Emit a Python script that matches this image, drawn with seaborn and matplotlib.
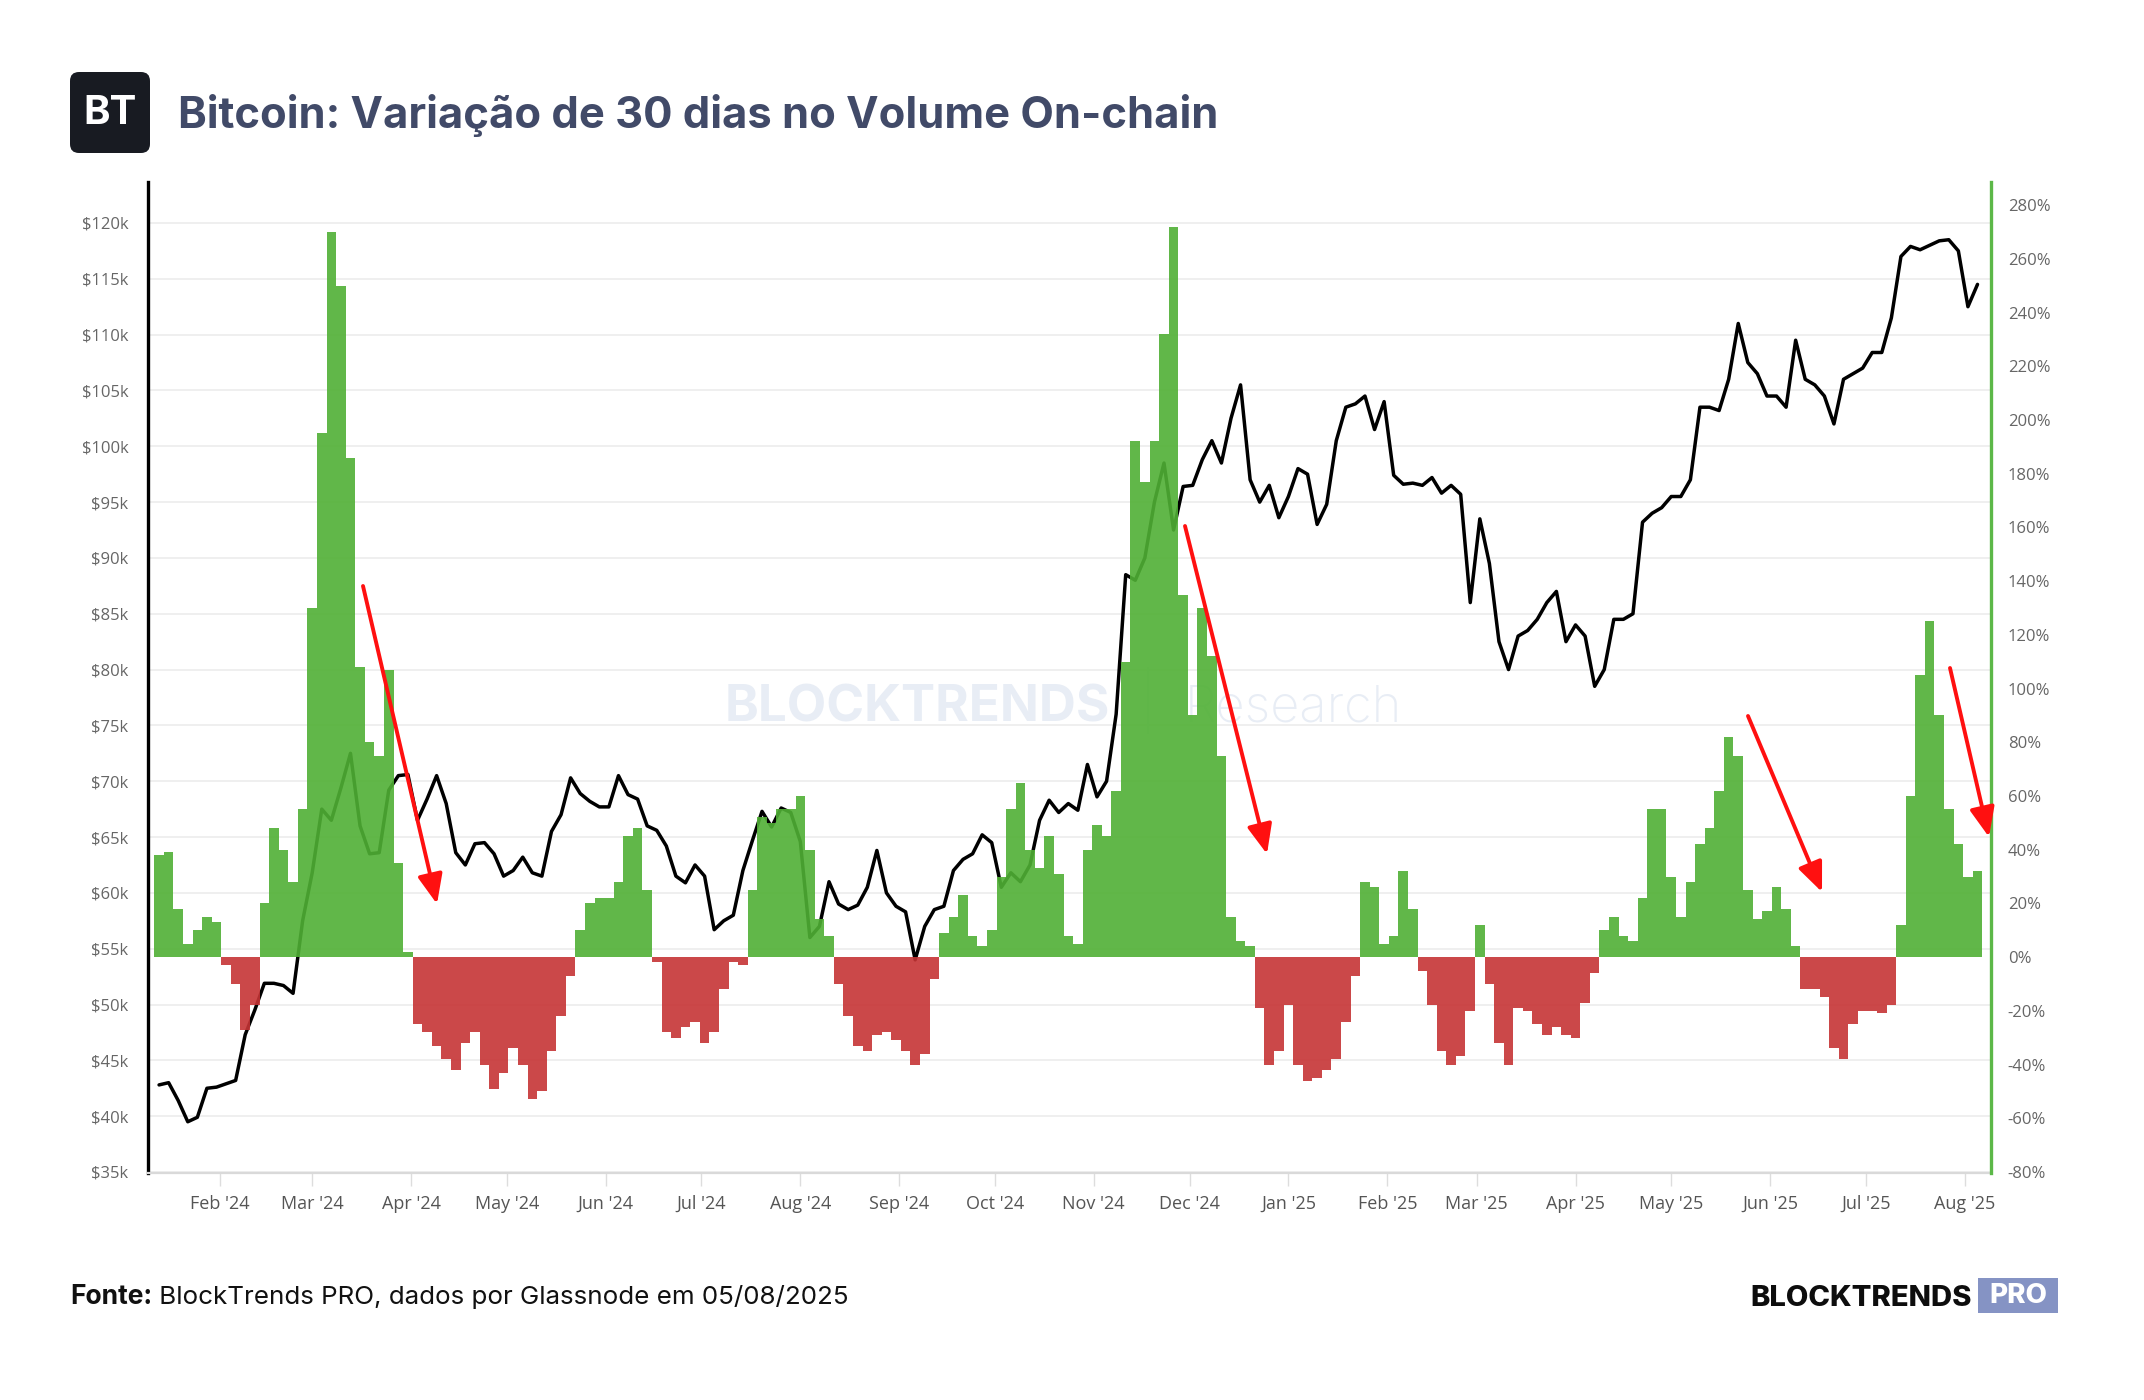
import numpy as np
import pandas as pd
import matplotlib
matplotlib.use("Agg")
import matplotlib.pyplot as plt
import matplotlib.dates as mdates
from matplotlib.patches import FancyBboxPatch, FancyArrowPatch, Rectangle
from matplotlib.transforms import IdentityTransform
import seaborn as sns

# data: one value every 3 days, from 2024-01-13
START = "2024-01-13"
STEP = "3D"

# 30-day change in on-chain volume (%)
volume_change = [
    38, 39, 18, 5, 10, 15, 13, -3, -10, -27,
    -18, 20, 48, 40, 28, 55, 130, 195, 270, 250,
    186, 108, 80, 75, 107, 35, 2, -25, -28, -33,
    -38, -42, -32, -28, -40, -49, -43, -34, -40, -53,
    -50, -35, -22, -7, 10, 20, 22, 22, 28, 45,
    48, 25, -2, -28, -30, -26, -24, -32, -28, -12,
    -2, -3, 25, 52, 50, 55, 55, 60, 40, 14,
    8, -10, -22, -33, -35, -29, -28, -31, -35, -40,
    -36, -8, 9, 15, 23, 8, 4, 10, 30, 55,
    65, 40, 33, 45, 31, 8, 5, 40, 49, 45,
    62, 110, 192, 177, 192, 232, 272, 135, 90, 130,
    112, 75, 15, 6, 4, -19, -40, -35, -18, -40,
    -46, -45, -42, -38, -24, -7, 28, 26, 5, 8,
    32, 18, -5, -18, -35, -40, -37, -20, 12, -10,
    -32, -40, -19, -20, -25, -29, -26, -29, -30, -17,
    -6, 10, 15, 8, 6, 22, 55, 55, 30, 15,
    28, 42, 48, 62, 82, 75, 25, 14, 17, 26,
    18, 4, -12, -12, -15, -34, -38, -25, -20, -20,
    -21, -18, 12, 60, 105, 125, 90, 55, 42, 30,
    32,
]

# BTC price (thousand USD)
btc_price_k = [
    42.8, 43.0, 41.4, 39.5, 39.9, 42.5, 42.6, 42.9, 43.2, 47.3,
    49.5, 51.9, 51.9, 51.7, 51.0, 57.5, 61.8, 67.5, 66.5, 69.4,
    72.5, 66.0, 63.5, 63.6, 69.2, 70.5, 70.6, 66.5, 68.4, 70.5,
    68.0, 63.6, 62.5, 64.4, 64.5, 63.5, 61.5, 62.0, 63.2, 61.8,
    61.5, 65.5, 67.0, 70.3, 68.9, 68.2, 67.7, 67.7, 70.5, 68.8,
    68.4, 66.0, 65.6, 64.2, 61.5, 60.9, 62.5, 61.5, 56.7, 57.5,
    58.0, 62.0, 64.7, 67.3, 65.9, 67.6, 67.2, 64.6, 56.0, 57.0,
    61.0, 59.0, 58.5, 58.9, 60.5, 63.8, 60.0, 58.8, 58.3, 54.0,
    57.0, 58.5, 58.8, 62.0, 63.0, 63.5, 65.2, 64.5, 60.5, 61.8,
    61.0, 62.5, 66.5, 68.3, 67.2, 68.0, 67.4, 71.5, 68.6, 70.0,
    76.0, 88.5, 88.0, 90.0, 95.0, 98.5, 92.5, 96.4, 96.5, 98.8,
    100.5, 98.5, 102.5, 105.5, 97.0, 95.0, 96.5, 93.6, 95.5, 98.0,
    97.5, 93.0, 94.8, 100.5, 103.5, 103.8, 104.5, 101.5, 104.0, 97.4,
    96.6, 96.7, 96.5, 97.2, 95.8, 96.5, 95.7, 86.0, 93.5, 89.5,
    82.5, 80.0, 83.0, 83.5, 84.5, 86.0, 87.0, 82.5, 84.0, 83.0,
    78.5, 80.0, 84.5, 84.5, 85.0, 93.2, 94.0, 94.5, 95.5, 95.5,
    97.0, 103.5, 103.5, 103.2, 106.0, 111.0, 107.5, 106.5, 104.5, 104.5,
    103.5, 109.5, 106.0, 105.5, 104.5, 102.0, 106.0, 106.5, 107.0, 108.4,
    108.4, 111.5, 117.0, 117.9, 117.6, 118.0, 118.4, 118.5, 117.5, 112.5,
    114.5,
]

price_ticks = list(range(35, 121, 5))
pct_ticks = list(range(-80, 281, 20))

TITLE = "Bitcoin: Variação de 30 dias no Volume On-chain"
SOURCE_BOLD = "Fonte:"
SOURCE_TEXT = "BlockTrends PRO, dados por Glassnode em 05/08/2025"

GREEN = "#50b035"
RED = "#c63435"

n = min(len(volume_change), len(btc_price_k))
df = pd.DataFrame({
    "date": pd.date_range(START, periods=n, freq=STEP),
    "vol": volume_change[:n],
    "price": btc_price_k[:n],
})
df["x"] = mdates.date2num(df["date"])
df["sign"] = np.where(df["vol"] >= 0, "up", "down")

sns.set_theme(style="white")
plt.rcParams["font.family"] = ["Open Sans", "DejaVu Sans"]

W, H = 2144, 1400
fig = plt.figure(figsize=(W / 100, H / 100), dpi=100)
fig.patch.set_facecolor("white")
ax = fig.add_axes([148 / W, 1 - 1173 / H, (1991 - 148) / W, (1173 - 182) / H])
ax2 = ax.twinx()

# price line (left axis), drawn under the bars
sns.lineplot(data=df, x="x", y="price", ax=ax, color="black", linewidth=2.5, zorder=3)

# volume change bars (right axis)
sns.barplot(data=df, x="x", y="vol", hue="sign", palette={"up": GREEN, "down": RED},
            native_scale=True, dodge=False, width=1.0, saturation=1, alpha=0.9,
            linewidth=0, errorbar=None, legend=False, ax=ax2)

x0 = mdates.date2num(pd.Timestamp("2024-02-01")) - 22.47
ax.set_xlim(x0, x0 + 577.7)
ax.set_ylim(34.91, 123.67)
ax2.set_ylim(-80.4, 288.6)

ax.set_yticks(price_ticks)
ax.set_yticklabels([f"${v}k" for v in price_ticks])
ax2.set_yticks(pct_ticks)
ax2.set_yticklabels([f"{v}%" for v in pct_ticks])

ax.xaxis.set_major_locator(mdates.MonthLocator())
ax.xaxis.set_major_formatter(mdates.DateFormatter("%b '%y"))

ax.set_xlabel("")
ax.set_ylabel("")
ax2.set_ylabel("")
ax2.set_xlabel("")

ax.grid(axis="y", color="#ececec", linewidth=1.2)
ax.grid(axis="x", visible=False)
ax2.grid(False)
ax.set_axisbelow(True)

ax.tick_params(axis="y", length=0, pad=14, labelsize=12, labelcolor="#666666")
ax2.tick_params(axis="y", length=0, pad=12, labelsize=12, labelcolor="#666666")
ax.tick_params(axis="x", length=9, width=1, color="#dddddd", pad=7,
               labelsize=13, labelcolor="#555555", bottom=True)

for s in ["top", "right"]:
    ax.spines[s].set_visible(False)
ax.spines["left"].set_color("black")
ax.spines["left"].set_linewidth(2.4)
ax.spines["bottom"].set_color("#d9d9d9")
ax.spines["bottom"].set_linewidth(1.6)
for s in ["top", "left", "bottom"]:
    ax2.spines[s].set_visible(False)
ax2.spines["right"].set_color("#5cb848")
ax2.spines["right"].set_linewidth(2.4)

px = IdentityTransform()


def fit_width(t, width_px):
    r = fig.canvas.get_renderer()
    bb = t.get_window_extent(r)
    t.set_fontsize(t.get_fontsize() * width_px / bb.width)
    return t


# watermark
wm1 = ax.text(725, H - 722, "BLOCKTRENDS", transform=px, fontsize=40, weight="bold",
              family=["Inter", "DejaVu Sans"], color="#e8edf5", zorder=1, va="baseline")
fit_width(wm1, 385)
ax.text(1148, H - 701, "|", transform=px, fontsize=40, color="#e8edf5", zorder=1,
        va="center", ha="center", family=["Inter", "DejaVu Sans"], weight="light")
wm2 = ax.text(1185, H - 722, "Research", transform=px, fontsize=40, weight="light",
              family=["Inter", "DejaVu Sans"], color="#e8edf5", zorder=1, va="baseline")
fit_width(wm2, 217)

# header
fig.add_artist(FancyBboxPatch((70, H - 153), 80, 81, boxstyle="round,pad=0,rounding_size=9",
                              transform=px, facecolor="#181b22", edgecolor="none"))
bt = fig.text(110, H - 113, "BT", transform=px, color="white", weight="bold", fontsize=29,
              ha="center", va="center", family=["Inter", "DejaVu Sans"])
title = fig.text(178, H - 128, TITLE, transform=px, color="#414a68", weight="bold",
                 fontsize=36, va="baseline", family=["Inter", "DejaVu Sans"])
fit_width(title, 1039)

# footer
fb = fig.text(70, H - 1304, SOURCE_BOLD, transform=px, color="#111111", weight="bold",
              fontsize=19, va="baseline", family=["Inter", "DejaVu Sans"])
fr = fig.text(0, H - 1304, " " + SOURCE_TEXT, transform=px, color="#111111",
              fontsize=19, va="baseline", family=["Inter", "DejaVu Sans"])
r = fig.canvas.get_renderer()
fit_width(fr, 780 - fb.get_window_extent(r).width)
fr.set_x(70 + fb.get_window_extent(r).width)

brand = fig.text(1972, H - 1306, "BLOCKTRENDS", transform=px, color="#0d0d0d", weight="heavy",
                 fontsize=22, va="baseline", ha="right", family=["Inter", "DejaVu Sans"])
fit_width(brand, 222)
fig.add_artist(Rectangle((1978, H - 1313), 80, 35, transform=px, facecolor="#8593c4",
                         edgecolor="none"))
fig.text(2018, H - 1296, "PRO", transform=px, color="white", weight="heavy", fontsize=20,
         ha="center", va="center", family=["Inter", "DejaVu Sans"])

# red arrows (pixel positions in the figure)
arrows = [
    ((363, 586), (437, 904)),
    ((1185, 526), (1267, 854)),
    ((1748, 716), (1822, 892)),
    ((1950, 668), (1989, 837)),
]
for (xa, ya), (xb, yb) in arrows:
    fig.add_artist(FancyArrowPatch((xa, H - ya), (xb, H - yb), transform=px,
                                   arrowstyle="-|>,head_length=0.9,head_width=0.38",
                                   mutation_scale=20, linewidth=2.8, color="#ff1010",
                                   shrinkA=0, shrinkB=0, zorder=10))

fig.savefig("out.png", dpi=100, facecolor="white")
